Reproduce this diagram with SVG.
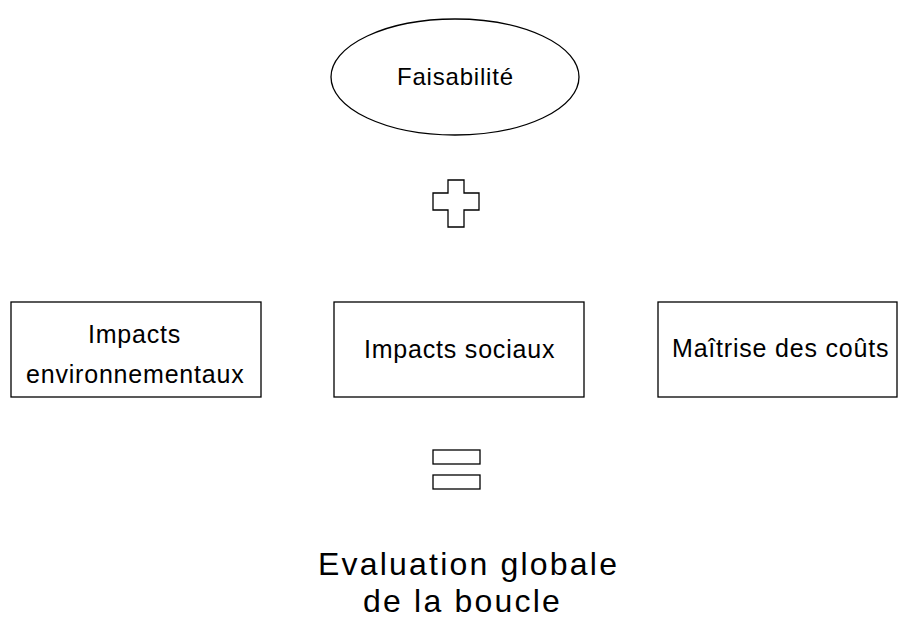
<svg xmlns="http://www.w3.org/2000/svg" width="898" height="619" viewBox="0 0 898 619">
<style>
.shape{fill:#fff;stroke:#000;stroke-width:1.3}
.t{font-family:"Liberation Sans",Arial,sans-serif;fill:#000;letter-spacing:0.8px}
.s24{font-size:24px}
.s25{font-size:25px}
.s32{font-size:32px;letter-spacing:2.2px}
</style>
<rect width="898" height="619" fill="#fff"/>
<g id="faisabilite">
<ellipse class="shape" cx="455" cy="77" rx="124" ry="58"/>
<text class="t s24" x="397" y="85">Faisabilité</text>
</g>
<g id="plus">
<path class="shape" d="M448,180 H464 V193 H479 V210 H464 V227 H448 V210 H433 V193 H448 Z"/>
</g>
<g id="impacts-env">
<rect class="shape" x="11" y="302" width="250" height="95"/>
<text class="t s25" x="88" y="343">Impacts</text>
<text class="t s25" x="26" y="383">environnementaux</text>
</g>
<g id="impacts-sociaux">
<rect class="shape" x="334" y="302" width="250" height="95"/>
<text class="t s25" x="364" y="358">Impacts sociaux</text>
</g>
<g id="maitrise-couts">
<rect class="shape" x="658" y="302" width="239" height="95"/>
<text class="t s25" x="672" y="357">Maîtrise des coûts</text>
</g>
<g id="equals">
<rect class="shape" x="433" y="450" width="47" height="14"/>
<rect class="shape" x="433" y="475" width="47" height="14"/>
</g>
<g id="evaluation">
<text class="t s32" x="318" y="575">Evaluation globale</text>
<text class="t s32" x="363" y="612">de la boucle</text>
</g>
<g id="connectors"/>
</svg>
